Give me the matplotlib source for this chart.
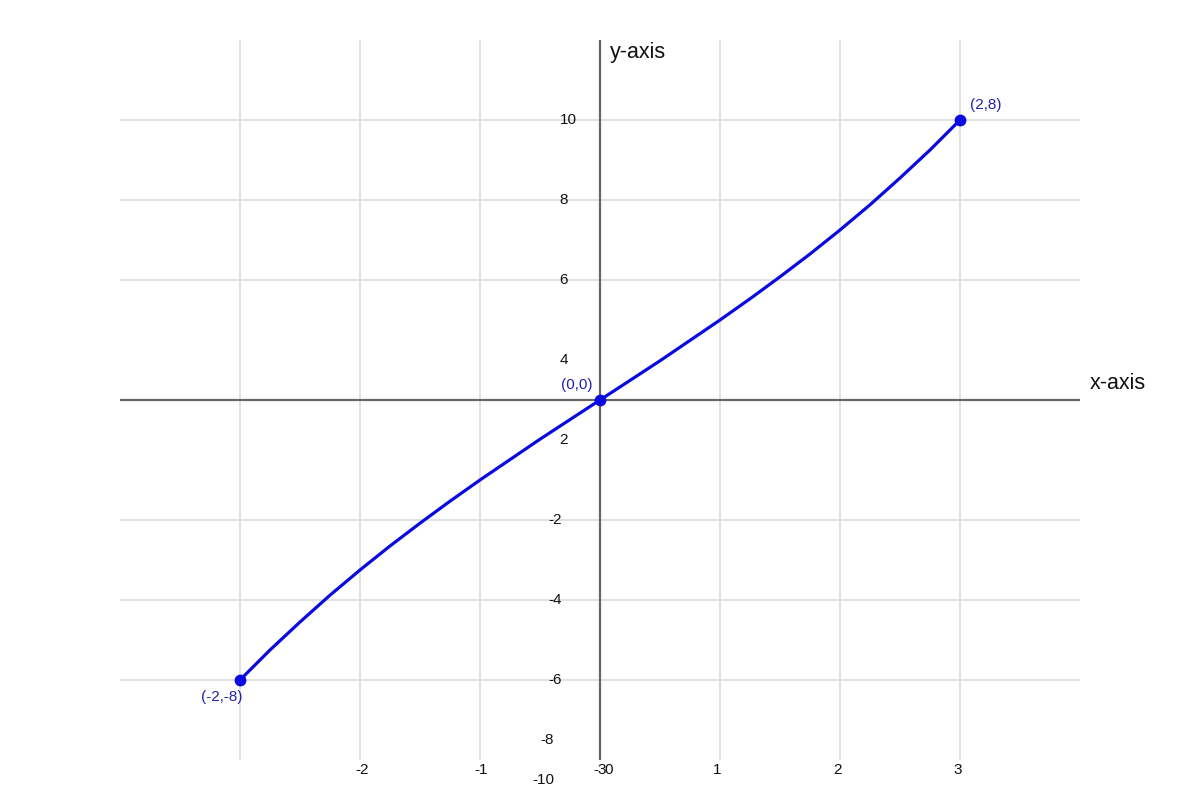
import matplotlib
matplotlib.use("Agg")
import matplotlib.pyplot as plt

plt.rcParams['font.family'] = ['Liberation Sans', 'DejaVu Sans']

# Curve values (plot coordinates)
curve_x = [-3, -2.75, -2.5, -2.25, -2, -1.75, -1.5, -1.25, -1, -0.75, -0.5, -0.25, 0,
           0.25, 0.5, 0.75, 1, 1.25, 1.5, 1.75, 2, 2.25, 2.5, 2.75, 3]
curve_y = [-7, -6.25, -5.55, -4.88, -4.25, -3.65, -3.08, -2.53, -2, -1.49, -0.98, -0.49, 0,
           0.49, 0.98, 1.49, 2, 2.53, 3.08, 3.65, 4.25, 4.88, 5.55, 6.25, 7]

# Highlighted points and their labels
point_x = [-3, 0, 3]
point_y = [-7, 0, 7]
point_labels = ['(-2,-8)', '(0,0)', '(2,8)']

# Grid lines
grid_x = [-3, -2, -1, 1, 2, 3]
grid_y = [-7, -5, -3, 3, 5, 7]

# Tick labels (as drawn)
xtick_labels = ['-2', '-1', '-3', '0', '1', '2', '3']
xtick_pos = [-1.98, -0.99, 0.0, 0.075, 0.98, 1.98, 2.98]
ytick_labels = ['10', '8', '6', '4', '2', '-2', '-4', '-6', '-8', '-10']
ytick_pos = [7, 5, 3, 1, -1, -3, -5, -7, -8.5, -9.5]
ytick_xpos = [-0.26, -0.3, -0.3, -0.3, -0.3, -0.375, -0.375, -0.375, -0.44, -0.47]

fig = plt.figure(figsize=(12, 8), dpi=100)
ax = fig.add_axes([0.1, 0.05, 0.8, 0.9])
ax.set_xlim(-4, 4)
ax.set_ylim(-9, 9)
ax.axis('off')

for gx in grid_x:
    ax.axvline(gx, color='#dddddd', lw=1.2, zorder=1)
for gy in grid_y:
    ax.axhline(gy, color='#dddddd', lw=1.2, zorder=1)

ax.axhline(0, color='#666666', lw=1.6, zorder=2)
ax.axvline(0, color='#666666', lw=1.6, zorder=2)

ax.plot(curve_x, curve_y, color='#0a0ae0', lw=2.3, zorder=3,
        solid_capstyle='round', solid_joinstyle='round')
ax.plot(point_x, point_y, 'o', color='#0a0ae0', ms=7.5, zorder=4)

# Point labels
ax.annotate(point_labels[0], (point_x[0], point_y[0]), xytext=(-13, -12),
            textcoords='offset points', ha='center', va='center', color='#2222aa', fontsize=11)
ax.annotate(point_labels[1], (point_x[1], point_y[1]), xytext=(-17, 11),
            textcoords='offset points', ha='center', va='center', color='#2222aa', fontsize=11)
ax.annotate(point_labels[2], (point_x[2], point_y[2]), xytext=(7, 11),
            textcoords='offset points', ha='left', va='center', color='#2222aa', fontsize=11)

for lbl, xp in zip(xtick_labels, xtick_pos):
    ax.text(xp, -9.25, lbl, ha='center', va='center', fontsize=11, color='#111111', clip_on=False)
for lbl, yp, xp in zip(ytick_labels, ytick_pos, ytick_xpos):
    ax.text(xp, yp, lbl, ha='center', va='center', fontsize=11, color='#111111', clip_on=False)

ax.text(4.08, 0.42, 'x-axis', ha='left', va='center', fontsize=15.5, color='#111111', clip_on=False)
ax.text(0.08, 8.68, 'y-axis', ha='left', va='center', fontsize=15.5, color='#111111', clip_on=False)

fig.savefig('out.png', dpi=100)
